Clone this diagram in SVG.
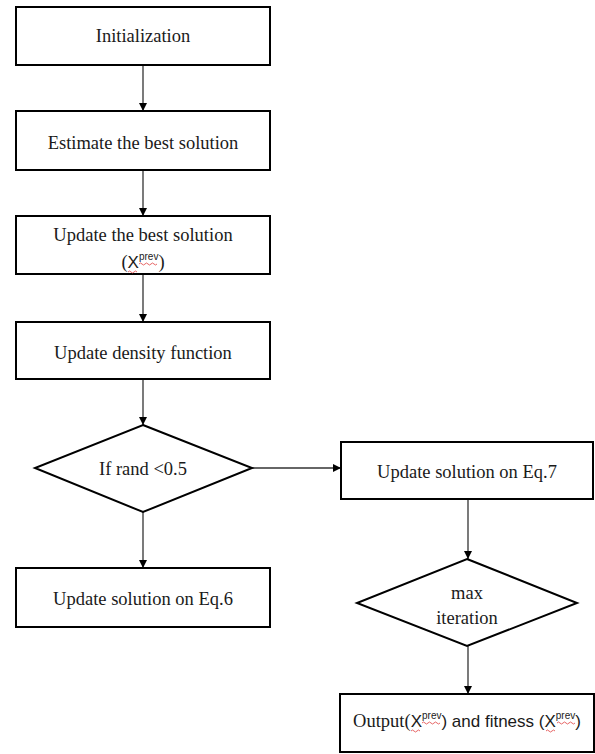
<svg xmlns="http://www.w3.org/2000/svg" width="595" height="754" viewBox="0 0 595 754">
<defs>
<marker id="ah" markerWidth="10" markerHeight="10" refX="9" refY="5" orient="auto" markerUnits="userSpaceOnUse">
<path d="M1,1 L9,5 L1,9 Z" fill="#000"/>
</marker>
<style>
.box{fill:#fff;stroke:#000;stroke-width:2}
.t{font-family:'Liberation Serif','Times New Roman',serif;font-size:18.5px;fill:#1a1a1a;text-anchor:middle}
.s{font-family:'Liberation Sans',Arial,sans-serif;fill:#1a1a1a}
.sup{font-size:10px}
.c{fill:none;stroke:#333;stroke-width:1.3;marker-end:url(#ah)}
.w{fill:none;stroke:#e04040;stroke-width:0.8}
</style>
</defs>
<rect width="595" height="754" fill="#fff"/>
<g id="connectors">
<line class="c" x1="143" y1="65" x2="143" y2="111"/>
<line class="c" x1="143" y1="170" x2="143" y2="216"/>
<line class="c" x1="143" y1="274" x2="143" y2="322"/>
<line class="c" x1="143" y1="379" x2="143" y2="425"/>
<line class="c" x1="143" y1="512" x2="143" y2="568"/>
<line class="c" x1="252" y1="468" x2="341" y2="468"/>
<line class="c" x1="468" y1="499" x2="468" y2="559"/>
<line class="c" x1="468" y1="646" x2="468" y2="694"/>
</g>
<g id="n1">
<rect class="box" x="16" y="7" width="254" height="58"/>
<text class="t" x="143" y="42">Initialization</text>
</g>
<g id="n2">
<rect class="box" x="16" y="111" width="254" height="59"/>
<text class="t" x="143" y="149">Estimate the best solution</text>
</g>
<g id="n3">
<rect class="box" x="16" y="216" width="254" height="58"/>
<text class="t" x="143" y="241">Update the best solution</text>
<text class="t" x="143" y="268">(<tspan class="s" font-size="17">X</tspan><tspan class="s sup" dy="-8">prev</tspan><tspan dy="8">)</tspan></text>
<path class="w" d="M128,272 q1.5,-2 3,0 t3,0 t3,0 M139,264 q1.5,-2 3,0 t3,0 t3,0 t3,0 t3,0 t3,0"/>
</g>
<g id="n4">
<rect class="box" x="16" y="322" width="254" height="57"/>
<text class="t" x="143" y="359">Update density function</text>
</g>
<g id="d1">
<polygon class="box" points="143,425 252,468 143,512 35,468"/>
<text class="t" x="143" y="475">If rand &lt;0.5</text>
</g>
<g id="n5">
<rect class="box" x="16" y="568" width="254" height="59"/>
<text class="t" x="143" y="605">Update solution on Eq.6</text>
</g>
<g id="n6">
<rect class="box" x="341" y="442" width="252" height="57"/>
<text class="t" x="467" y="478">Update solution on Eq.7</text>
</g>
<g id="d2">
<polygon class="box" points="467,559 577,603 467,646 357,603"/>
<text class="t" x="467" y="599">max</text>
<text class="t" x="467" y="624">iteration</text>
</g>
<g id="n7">
<rect class="box" x="340" y="694" width="254" height="58"/>
<text class="t" x="467" y="727"><tspan>Output(</tspan><tspan class="s" font-size="17">X</tspan><tspan class="s sup" dy="-8">prev</tspan><tspan class="s" font-size="17" dy="8">) and fitness (X</tspan><tspan class="s sup" dy="-8">prev</tspan><tspan class="s" font-size="17" dy="8">)</tspan></text>
<path class="w" d="M411,731 q1.5,-2 3,0 t3,0 t3,0 M422,723 q1.5,-2 3,0 t3,0 t3,0 t3,0 t3,0 t3,0 M546,731 q1.5,-2 3,0 t3,0 t3,0 M557,723 q1.5,-2 3,0 t3,0 t3,0 t3,0 t3,0 t3,0"/>
</g>
</svg>
